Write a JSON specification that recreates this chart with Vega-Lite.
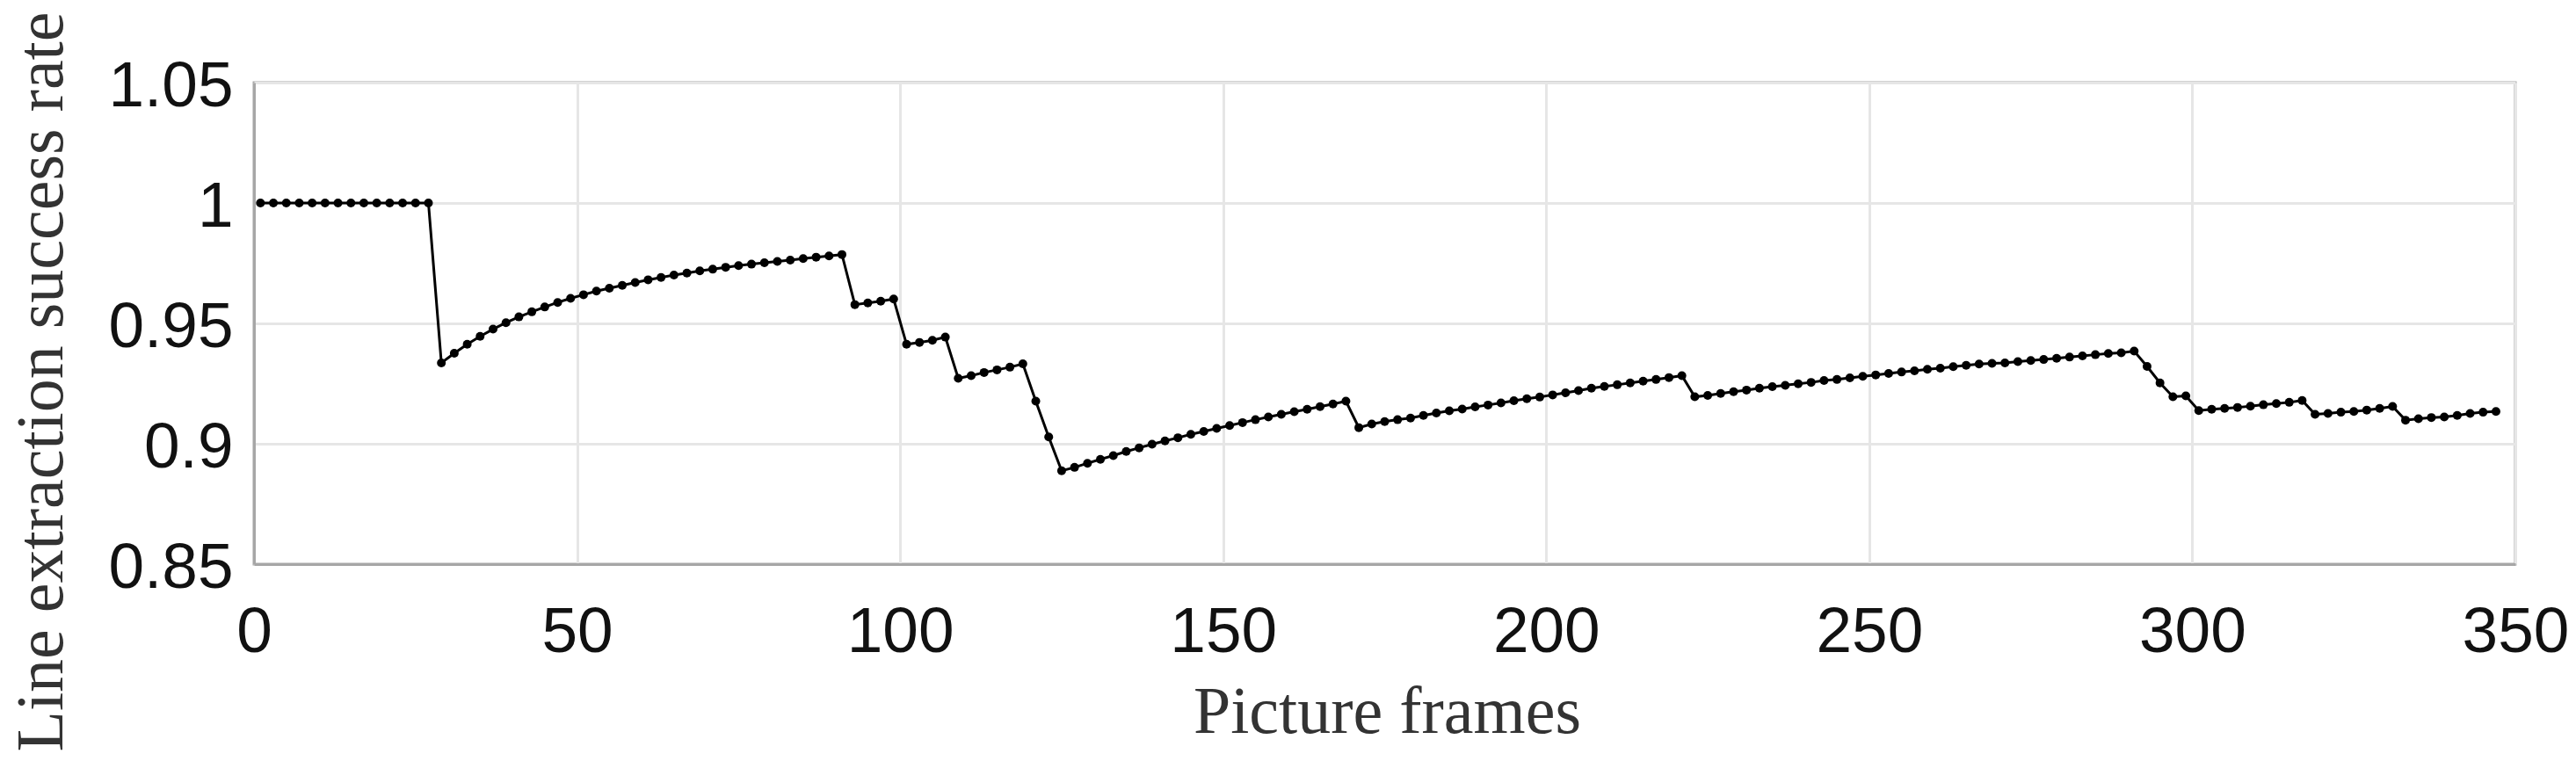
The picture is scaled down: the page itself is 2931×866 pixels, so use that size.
{
  "$schema": "https://vega.github.io/schema/vega-lite/v6.json",
  "width": 2573,
  "height": 548,
  "autosize": {"type": "none"},
  "padding": {"left": 289, "top": 94, "right": 69, "bottom": 224},
  "background": "white",
  "config": {
    "view": {"stroke": "#a6a6a6", "strokeWidth": 3},
    "axis": {
      "domainColor": "#a6a6a6",
      "domainWidth": 3,
      "gridColor": "#e6e6e6",
      "gridWidth": 3,
      "ticks": false,
      "labelFont": "Liberation Sans",
      "labelFontSize": 73,
      "labelColor": "#111111",
      "titleFont": "Liberation Serif",
      "titleFontSize": 76,
      "titleFontWeight": "normal",
      "titleColor": "#333333"
    }
  },
  "data": {
    "values": [
      {"frame": 1, "rate": 1.0}, {"frame": 3, "rate": 1.0}, {"frame": 5, "rate": 1.0}, {"frame": 7, "rate": 1.0},
      {"frame": 9, "rate": 1.0}, {"frame": 11, "rate": 1.0}, {"frame": 13, "rate": 1.0}, {"frame": 15, "rate": 1.0},
      {"frame": 17, "rate": 1.0}, {"frame": 19, "rate": 1.0}, {"frame": 21, "rate": 1.0}, {"frame": 23, "rate": 1.0},
      {"frame": 25, "rate": 1.0}, {"frame": 27, "rate": 1.0},
      {"frame": 29, "rate": 0.9336}, {"frame": 31, "rate": 0.9376}, {"frame": 33, "rate": 0.9413}, {"frame": 35, "rate": 0.9446},
      {"frame": 37, "rate": 0.9476}, {"frame": 39, "rate": 0.9503}, {"frame": 41, "rate": 0.9527}, {"frame": 43, "rate": 0.9548},
      {"frame": 45, "rate": 0.9568}, {"frame": 47, "rate": 0.9587}, {"frame": 49, "rate": 0.9604}, {"frame": 51, "rate": 0.9619},
      {"frame": 53, "rate": 0.9634}, {"frame": 55, "rate": 0.9646}, {"frame": 57, "rate": 0.9658}, {"frame": 59, "rate": 0.967},
      {"frame": 61, "rate": 0.9681}, {"frame": 63, "rate": 0.9691}, {"frame": 65, "rate": 0.9701}, {"frame": 67, "rate": 0.9709},
      {"frame": 69, "rate": 0.9718}, {"frame": 71, "rate": 0.9725}, {"frame": 73, "rate": 0.9733}, {"frame": 75, "rate": 0.974},
      {"frame": 77, "rate": 0.9746}, {"frame": 79, "rate": 0.9752}, {"frame": 81, "rate": 0.9757}, {"frame": 83, "rate": 0.9763},
      {"frame": 85, "rate": 0.9769}, {"frame": 87, "rate": 0.9775}, {"frame": 89, "rate": 0.978}, {"frame": 91, "rate": 0.9786},
      {"frame": 93, "rate": 0.9578}, {"frame": 95, "rate": 0.9585}, {"frame": 97, "rate": 0.9592}, {"frame": 99, "rate": 0.9601},
      {"frame": 101, "rate": 0.9413}, {"frame": 103, "rate": 0.9421}, {"frame": 105, "rate": 0.943}, {"frame": 107, "rate": 0.9443},
      {"frame": 109, "rate": 0.9272}, {"frame": 111, "rate": 0.9283}, {"frame": 113, "rate": 0.9296}, {"frame": 115, "rate": 0.9307},
      {"frame": 117, "rate": 0.9318}, {"frame": 119, "rate": 0.9332}, {"frame": 121, "rate": 0.9177}, {"frame": 123, "rate": 0.9028},
      {"frame": 125, "rate": 0.8888}, {"frame": 127, "rate": 0.8902}, {"frame": 129, "rate": 0.8919}, {"frame": 131, "rate": 0.8935},
      {"frame": 133, "rate": 0.8951}, {"frame": 135, "rate": 0.8968}, {"frame": 137, "rate": 0.8983}, {"frame": 139, "rate": 0.8998},
      {"frame": 141, "rate": 0.9012}, {"frame": 143, "rate": 0.9025}, {"frame": 145, "rate": 0.9039}, {"frame": 147, "rate": 0.9051},
      {"frame": 149, "rate": 0.9064}, {"frame": 151, "rate": 0.9076}, {"frame": 153, "rate": 0.9088}, {"frame": 155, "rate": 0.91},
      {"frame": 157, "rate": 0.9111}, {"frame": 159, "rate": 0.9122}, {"frame": 161, "rate": 0.9133}, {"frame": 163, "rate": 0.9143},
      {"frame": 165, "rate": 0.9154}, {"frame": 167, "rate": 0.9165}, {"frame": 169, "rate": 0.9177}, {"frame": 171, "rate": 0.9067},
      {"frame": 173, "rate": 0.9082}, {"frame": 175, "rate": 0.9092}, {"frame": 177, "rate": 0.91}, {"frame": 179, "rate": 0.9107},
      {"frame": 181, "rate": 0.9118}, {"frame": 183, "rate": 0.9128}, {"frame": 185, "rate": 0.9137}, {"frame": 187, "rate": 0.9144},
      {"frame": 189, "rate": 0.9153}, {"frame": 191, "rate": 0.9161}, {"frame": 193, "rate": 0.917}, {"frame": 195, "rate": 0.9179},
      {"frame": 197, "rate": 0.9187}, {"frame": 199, "rate": 0.9194}, {"frame": 201, "rate": 0.9203}, {"frame": 203, "rate": 0.9212},
      {"frame": 205, "rate": 0.9221}, {"frame": 207, "rate": 0.9231}, {"frame": 209, "rate": 0.9238}, {"frame": 211, "rate": 0.9245},
      {"frame": 213, "rate": 0.9253}, {"frame": 215, "rate": 0.926}, {"frame": 217, "rate": 0.9267}, {"frame": 219, "rate": 0.9275},
      {"frame": 221, "rate": 0.9283}, {"frame": 223, "rate": 0.9195}, {"frame": 225, "rate": 0.9201}, {"frame": 227, "rate": 0.9209},
      {"frame": 229, "rate": 0.9216}, {"frame": 231, "rate": 0.9223}, {"frame": 233, "rate": 0.9231}, {"frame": 235, "rate": 0.9237},
      {"frame": 237, "rate": 0.9243}, {"frame": 239, "rate": 0.9249}, {"frame": 241, "rate": 0.9255}, {"frame": 243, "rate": 0.9263},
      {"frame": 245, "rate": 0.9267}, {"frame": 247, "rate": 0.9274}, {"frame": 249, "rate": 0.928}, {"frame": 251, "rate": 0.9286},
      {"frame": 253, "rate": 0.9292}, {"frame": 255, "rate": 0.9298}, {"frame": 257, "rate": 0.9303}, {"frame": 259, "rate": 0.9309},
      {"frame": 261, "rate": 0.9314}, {"frame": 263, "rate": 0.932}, {"frame": 265, "rate": 0.9326}, {"frame": 267, "rate": 0.9331},
      {"frame": 269, "rate": 0.9334}, {"frame": 271, "rate": 0.9336}, {"frame": 273, "rate": 0.9341}, {"frame": 275, "rate": 0.9346},
      {"frame": 277, "rate": 0.935}, {"frame": 279, "rate": 0.9355}, {"frame": 281, "rate": 0.936}, {"frame": 283, "rate": 0.9365},
      {"frame": 285, "rate": 0.937}, {"frame": 287, "rate": 0.9375}, {"frame": 289, "rate": 0.9378}, {"frame": 291, "rate": 0.9385},
      {"frame": 293, "rate": 0.9321}, {"frame": 295, "rate": 0.9253}, {"frame": 297, "rate": 0.9195}, {"frame": 299, "rate": 0.9199},
      {"frame": 301, "rate": 0.9138}, {"frame": 303, "rate": 0.9143}, {"frame": 305, "rate": 0.9147}, {"frame": 307, "rate": 0.9151},
      {"frame": 309, "rate": 0.9156}, {"frame": 311, "rate": 0.9162}, {"frame": 313, "rate": 0.9167}, {"frame": 315, "rate": 0.9172},
      {"frame": 317, "rate": 0.918}, {"frame": 319, "rate": 0.9122}, {"frame": 321, "rate": 0.9126}, {"frame": 323, "rate": 0.9131},
      {"frame": 325, "rate": 0.9134}, {"frame": 327, "rate": 0.914}, {"frame": 329, "rate": 0.9147}, {"frame": 331, "rate": 0.9155},
      {"frame": 333, "rate": 0.9098}, {"frame": 335, "rate": 0.9104}, {"frame": 337, "rate": 0.9109}, {"frame": 339, "rate": 0.9111},
      {"frame": 341, "rate": 0.9118}, {"frame": 343, "rate": 0.9126}, {"frame": 345, "rate": 0.9131}, {"frame": 347, "rate": 0.9134}
    ]
  },
  "mark": {
    "type": "line",
    "color": "#000000",
    "strokeWidth": 3,
    "point": {"filled": true, "size": 100, "color": "#000000", "opacity": 1}
  },
  "encoding": {
    "x": {
      "field": "frame",
      "type": "quantitative",
      "scale": {"domain": [0, 350], "nice": false, "zero": false},
      "axis": {
        "values": [0, 50, 100, 150, 200, 250, 300, 350],
        "title": "Picture frames",
        "labelBaseline": "alphabetic",
        "labelPadding": 99,
        "labelFlush": false,
        "titleX": 1289,
        "titleY": 191,
        "titleAlign": "center",
        "titleBaseline": "alphabetic"
      }
    },
    "y": {
      "field": "rate",
      "type": "quantitative",
      "scale": {"domain": [0.85, 1.05], "nice": false, "zero": false},
      "axis": {
        "values": [0.85, 0.9, 0.95, 1, 1.05],
        "labelExpr": "format(datum.value, '~g')",
        "title": "Line extraction success rate",
        "labelBaseline": "alphabetic",
        "labelOffset": 26,
        "labelPadding": 24,
        "labelFlush": false,
        "titleAngle": 270,
        "titleX": -219,
        "titleY": 340,
        "titleAlign": "center",
        "titleBaseline": "alphabetic"
      }
    }
  }
}
